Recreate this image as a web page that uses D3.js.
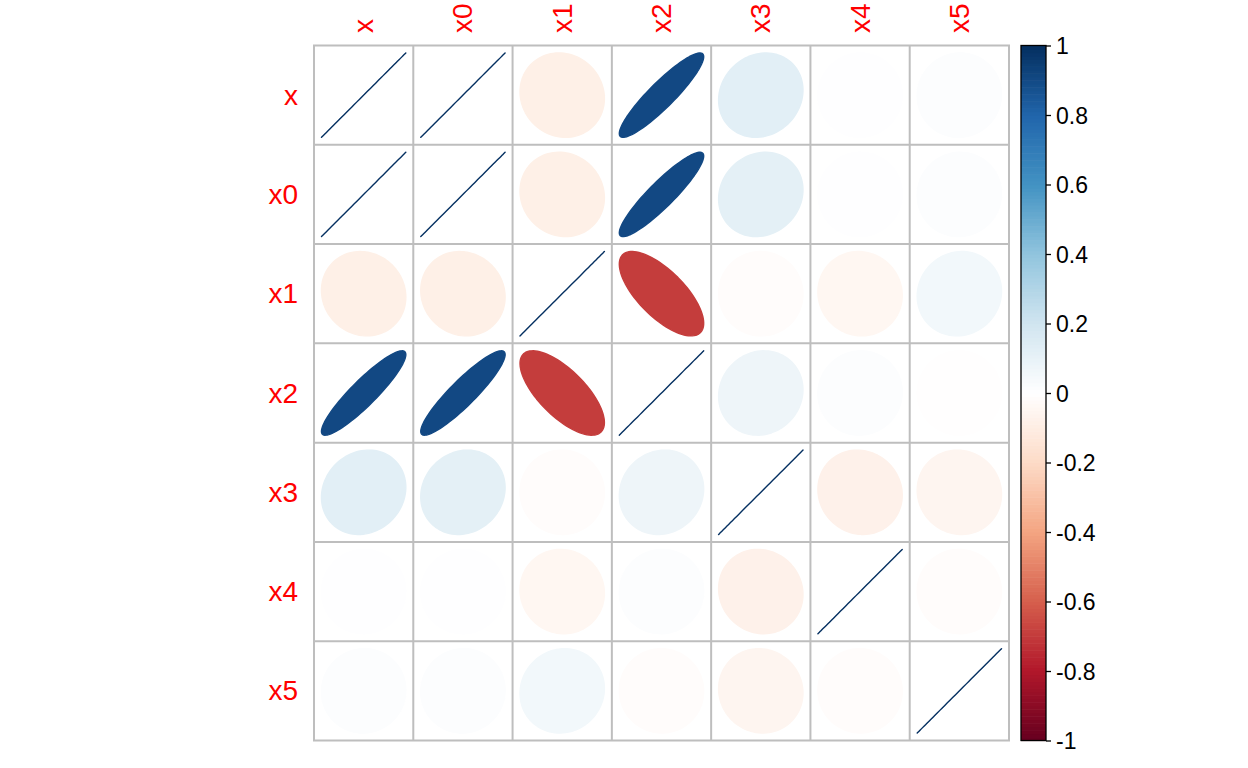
<!DOCTYPE html>
<html>
<head>
<meta charset="utf-8">
<script src="https://cdn.jsdelivr.net/npm/d3@7"></script>
<style>
  html, body { margin: 0; padding: 0; background: #ffffff; }
  svg { display: block; }
  text { font-family: "Liberation Sans", Arial, Helvetica, sans-serif; }
</style>
</head>
<body>
<svg id="chart" width="1248" height="768"></svg>
<script>
// ---------- data ----------
const variables = ["x", "x0", "x1", "x2", "x3", "x4", "x5"];
const corrX  = [ 1.00,  1.00, -0.08,  0.91,  0.12,  0.01,  0.02];
const corrX0 = [ 1.00,  1.00, -0.08,  0.91,  0.11,  0.01,  0.02];
const corrX1 = [-0.08, -0.08,  1.00, -0.70, -0.01, -0.04,  0.06];
const corrX2 = [ 0.91,  0.91, -0.70,  1.00,  0.08,  0.02,  0.00];
const corrX3 = [ 0.12,  0.11, -0.01,  0.08,  1.00, -0.07, -0.05];
const corrX4 = [ 0.01,  0.01, -0.04,  0.02, -0.07,  1.00, -0.01];
const corrX5 = [ 0.02,  0.02,  0.06, -0.01, -0.05, -0.01,  1.00];
const corrRows = [corrX, corrX0, corrX1, corrX2, corrX3, corrX4, corrX5];
const legendTicks = [-1, -0.8, -0.6, -0.4, -0.2, 0, 0.2, 0.4, 0.6, 0.8, 1];
const legendLabels = ["-1", "-0.8", "-0.6", "-0.4", "-0.2", "0", "0.2", "0.4", "0.6", "0.8", "1"];
const paletteAnchors = ["#67001F", "#B2182B", "#D6604D", "#F4A582", "#FDDBC7", "#FFFFFF",
                        "#D1E5F0", "#92C5DE", "#4393C3", "#2166AC", "#053061"];

// ---------- layout ----------
const gridLeft = 314, gridRight = 1009, gridTop = 45.5, gridBottom = 740.5;
const svg = d3.select("#chart");

const xBand = d3.scaleBand().domain(variables).range([gridLeft, gridRight]);
const yBand = d3.scaleBand().domain(variables).range([gridTop, gridBottom]);
const cell = xBand.bandwidth();

// palette of 200 colours like colorRampPalette
const N = 200;
const ramp = d3.scaleLinear()
  .domain(d3.range(paletteAnchors.length).map(i => i / (paletteAnchors.length - 1)))
  .range(paletteAnchors)
  .interpolate(d3.interpolateRgb);
const palette = d3.range(N).map(i => ramp(i / (N - 1)));
function colorFor(r) {
  let idx = Math.ceil((r + 1) / 2 * N);
  idx = Math.max(1, Math.min(N, idx));
  return palette[idx - 1];
}

// ellipse shape (cell units) like corrplot
function ellipsePoints(rho) {
  const a = Math.acos(Math.max(-1, Math.min(1, rho))) / 2;
  return d3.range(99).map(i => {
    const k = i / 98 * 2 * Math.PI;
    return [0.85 * Math.cos(k + a) / 2, 0.85 * Math.cos(k - a) / 2];
  });
}

const cells = [];
variables.forEach((rv, i) => {
  variables.forEach((cv, j) => {
    cells.push({ row: rv, col: cv, r: corrRows[i][j] });
  });
});

// grid background
const gGrid = svg.append("g");
gGrid.selectAll("rect").data(cells).join("rect")
  .attr("x", d => xBand(d.col))
  .attr("y", d => yBand(d.row))
  .attr("width", cell)
  .attr("height", cell)
  .attr("fill", "#ffffff")
  .attr("stroke", "none");

// ellipses
const line = d3.line();
const gEll = svg.append("g");
gEll.selectAll("path").data(cells).join("path")
  .attr("d", d => {
    const cx = xBand(d.col) + cell / 2;
    const cy = yBand(d.row) + cell / 2;
    const pts = ellipsePoints(d.r).map(p => [cx + p[0] * cell, cy - p[1] * cell]);
    return line(pts) + "Z";
  })
  .attr("fill", d => colorFor(d.r))
  .attr("stroke", d => colorFor(d.r))
  .attr("stroke-width", 1.4)
  .attr("stroke-linejoin", "round");

// grid lines
const gLines = svg.append("g").attr("stroke", "#BEBEBE").attr("stroke-width", 2);
const edges = variables.map(v => xBand(v)).concat([gridRight]);
gLines.selectAll("line.v").data(edges).join("line").attr("class", "v")
  .attr("x1", d => d).attr("x2", d => d)
  .attr("y1", gridTop).attr("y2", gridBottom);
const hEdges = variables.map(v => yBand(v)).concat([gridBottom]);
gLines.selectAll("line.h").data(hEdges).join("line").attr("class", "h")
  .attr("y1", d => d).attr("y2", d => d)
  .attr("x1", gridLeft - 1).attr("x2", gridRight + 1);

// row labels
svg.append("g").selectAll("text").data(variables).join("text")
  .attr("x", 298)
  .attr("y", d => yBand(d) + cell / 2)
  .attr("text-anchor", "end")
  .attr("dominant-baseline", "central")
  .attr("fill", "#FF0000")
  .attr("font-size", 28)
  .text(d => d);

// column labels (rotated)
svg.append("g").selectAll("text").data(variables).join("text")
  .attr("transform", d => `translate(${xBand(d) + cell / 2},33) rotate(-90)`)
  .attr("text-anchor", "start")
  .attr("dominant-baseline", "central")
  .attr("fill", "#FF0000")
  .attr("font-size", 28)
  .text(d => d);

// colour legend
const legLeft = 1021, legRight = 1046;
const legY = d3.scaleLinear().domain([-1, 1]).range([gridBottom, gridTop]);
const bins = d3.range(N);
const gLeg = svg.append("g");
gLeg.selectAll("rect").data(bins).join("rect")
  .attr("x", legLeft)
  .attr("width", legRight - legLeft)
  .attr("y", i => legY(-1 + (i + 1) * 2 / N))
  .attr("height", i => legY(-1 + i * 2 / N) - legY(-1 + (i + 1) * 2 / N) + 0.6)
  .attr("fill", i => palette[i]);
gLeg.append("rect")
  .attr("x", legLeft).attr("y", gridTop)
  .attr("width", legRight - legLeft).attr("height", gridBottom - gridTop)
  .attr("fill", "none").attr("stroke", "#000").attr("stroke-width", 1.3);

const legAxis = d3.axisRight(legY)
  .tickValues(legendTicks)
  .tickFormat((d, i) => legendLabels[i])
  .tickSize(5)
  .tickPadding(5);
const gAxis = svg.append("g")
  .attr("transform", `translate(${legRight},0)`)
  .call(legAxis);
gAxis.select(".domain").remove();
gAxis.selectAll(".tick line").attr("stroke", "#000").attr("stroke-width", 1.3);
gAxis.selectAll(".tick text")
  .attr("font-size", 23)
  .attr("font-family", "'Liberation Sans', Arial, sans-serif")
  .attr("fill", "#000")
  .attr("dy", "0.35em");
</script>
</body>
</html>
